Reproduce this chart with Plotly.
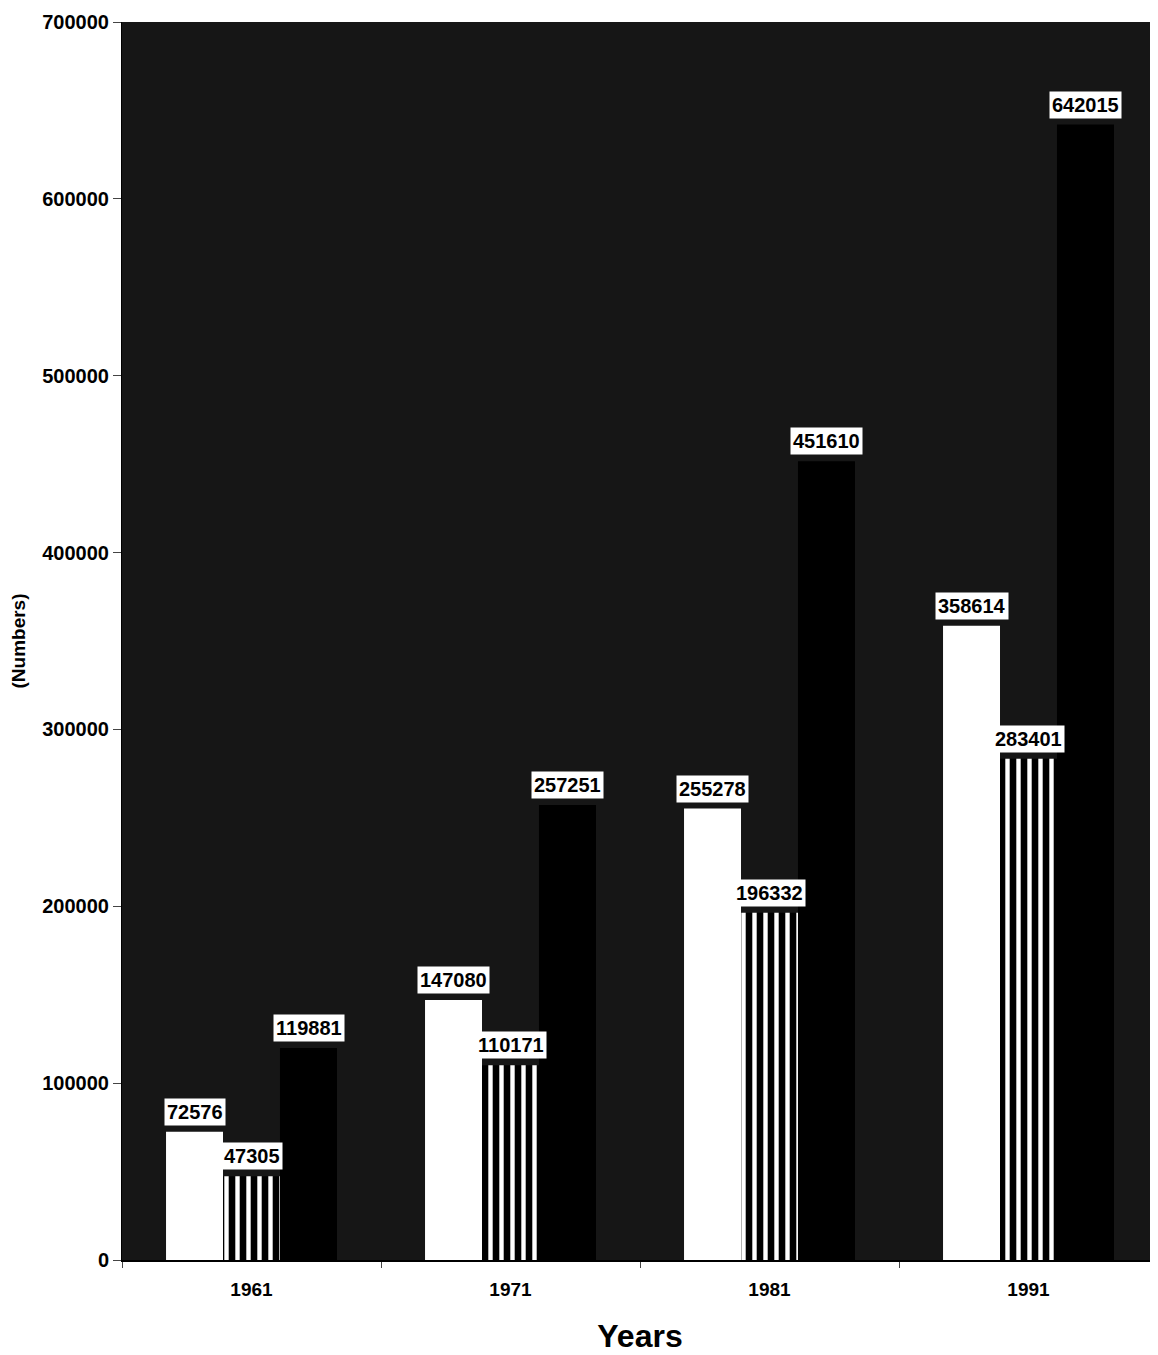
import plotly.graph_objects as go

years = ["1961", "1971", "1981", "1991"]
series_a = [72576, 147080, 255278, 358614]
series_b = [47305, 110171, 196332, 283401]
series_c = [119881, 257251, 451610, 642015]
y_ticks = [0, 100000, 200000, 300000, 400000, 500000, 600000, 700000]

FONT = "Liberation Sans, Arial"

fig = go.Figure()
fig.add_trace(go.Bar(x=years, y=series_a, marker=dict(color="white", line=dict(width=0)), showlegend=False))
fig.add_trace(go.Bar(x=years, y=series_b,
                     marker=dict(color="black", line=dict(width=0),
                                 pattern=dict(shape="|", fgcolor="white", bgcolor="black",
                                              fgopacity=1, size=11, solidity=0.4)),
                     showlegend=False))
fig.add_trace(go.Bar(x=years, y=series_c, marker=dict(color="black", line=dict(width=0)), showlegend=False))

shifts = [-57, 0, 57]
for vals, sh in zip([series_a, series_b, series_c], shifts):
    for i, v in enumerate(vals):
        fig.add_annotation(x=i, y=v, text=str(v), showarrow=False, xshift=sh, yshift=6,
                           yanchor="bottom", bgcolor="white", borderpad=2,
                           font=dict(family=FONT, size=20, color="black", weight="bold"))

fig.update_layout(
    width=1150, height=1347,
    margin=dict(l=114, r=0, t=14, b=95),
    paper_bgcolor="white", plot_bgcolor="#161616",
    barmode="group", bargap=0.34, bargroupgap=0,
    font=dict(family=FONT, color="black"),
    xaxis=dict(type="category", range=[-0.5, 3.5],
               title=dict(text="<b>Years</b>", font=dict(size=32), standoff=26),
               tickfont=dict(size=19, weight="bold"), tickson="boundaries", ticklabelstandoff=11,
               ticks="outside", ticklen=6, showline=True, linecolor="black", linewidth=2,
               showgrid=False),
    yaxis=dict(title=dict(text="<b>(Numbers)</b>", font=dict(size=19), standoff=12),
               range=[0, 700000], tickvals=y_ticks, ticktext=[str(t) for t in y_ticks],
               tickfont=dict(size=20, weight="bold"), ticks="outside", ticklen=8,
               ticklabeloverflow="allow",
               showgrid=False, zeroline=False, showline=True, linecolor="black"),
)

fig.write_html("out.html")
